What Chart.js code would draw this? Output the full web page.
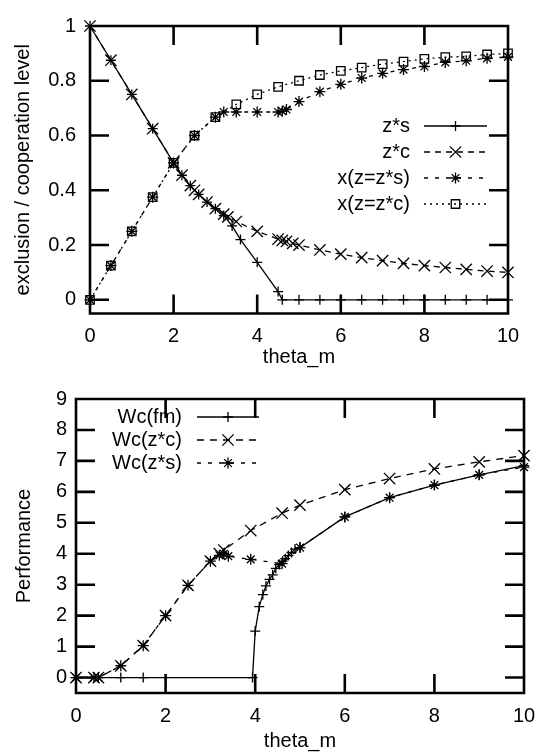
<!DOCTYPE html>
<html>
<head>
<meta charset="utf-8">
<script src="https://cdn.jsdelivr.net/npm/chart.js@4/dist/chart.umd.min.js"></script>
<style>
  html, body { margin: 0; padding: 0; background: #fff; }
  canvas { display: block; }
</style>
</head>
<body>
<canvas id="chartTop" width="552" height="378"></canvas>
<canvas id="chartBottom" width="552" height="378"></canvas>
<script>
// ---- top chart data ----
const thetaZs = [0, 0.5, 1, 1.5, 2, 2.2, 2.4, 2.6, 2.8, 3, 3.2, 3.4, 3.6, 4, 4.5, 4.6, 5, 5.5, 6, 6.5, 7, 7.5, 8, 8.5, 9, 9.5, 10];
const zStarS  = [1, 0.875, 0.75, 0.625, 0.5, 0.455, 0.417, 0.385, 0.357, 0.333, 0.308, 0.27, 0.22, 0.137, 0.03, 0, 0, 0, 0, 0, 0, 0, 0, 0, 0, 0, 0];

const thetaZc = [0, 0.5, 1, 1.5, 2, 2.2, 2.4, 2.5, 2.6, 2.8, 3, 3.2, 3.3, 3.5, 4, 4.5, 4.6, 4.7, 4.85, 5, 5.5, 6, 6.5, 7, 7.5, 8, 8.5, 9, 9.5, 10];
const zStarC  = [1, 0.875, 0.75, 0.625, 0.5, 0.455, 0.417, 0.4, 0.385, 0.357, 0.333, 0.313, 0.303, 0.286, 0.25, 0.222, 0.217, 0.213, 0.206, 0.2, 0.182, 0.167, 0.154, 0.143, 0.133, 0.125, 0.118, 0.111, 0.105, 0.1];

const thetaXs = [0, 0.5, 1, 1.5, 2, 2.5, 3, 3.2, 3.5, 4, 4.5, 4.6, 4.7, 5, 5.5, 6, 6.5, 7, 7.5, 8, 8.5, 9, 9.5, 10];
const xAtZs   = [0, 0.125, 0.25, 0.375, 0.5, 0.6, 0.667, 0.686, 0.686, 0.686, 0.686, 0.689, 0.695, 0.724, 0.76, 0.787, 0.81, 0.827, 0.841, 0.852, 0.867, 0.873, 0.882, 0.887];

const thetaXc = [0, 0.5, 1, 1.5, 2, 2.5, 3, 3.5, 4, 4.5, 5, 5.5, 6, 6.5, 7, 7.5, 8, 8.5, 9, 9.5, 10];
const xAtZc   = [0, 0.125, 0.25, 0.375, 0.5, 0.6, 0.667, 0.714, 0.75, 0.778, 0.8, 0.821, 0.836, 0.848, 0.861, 0.87, 0.88, 0.886, 0.889, 0.896, 0.9];

// ---- bottom chart data ----
const thetaFm = [0, 1, 1.5, 3.94, 4.0, 4.09, 4.17, 4.24, 4.32, 4.39, 4.46, 4.54, 4.61, 4.67, 4.74, 4.81, 4.89, 5, 6, 7, 8, 9, 10];
const wcFm    = [0, 0, 0, 0, 1.5, 2.29, 2.68, 2.96, 3.17, 3.32, 3.53, 3.65, 3.76, 3.84, 3.94, 4.04, 4.15, 4.2, 5.19, 5.81, 6.22, 6.55, 6.85];

const thetaWzc = [0, 0.4, 0.5, 1, 1.5, 2, 2.5, 3, 3.2, 3.3, 3.9, 4.6, 5, 6, 7, 8, 9, 10];
const wcZc     = [0, 0, 0, 0.38, 1.03, 2.0, 2.98, 3.76, 4.0, 4.12, 4.75, 5.31, 5.57, 6.07, 6.43, 6.74, 6.97, 7.17];

const thetaWzs = [0, 0.4, 0.5, 1, 1.5, 2, 2.5, 3, 3.2, 3.3, 3.4, 3.9, 4.6, 5, 6, 7, 8, 9, 10];
const wcZs     = [0, 0, 0, 0.38, 1.03, 2.0, 2.98, 3.76, 3.95, 4.0, 3.92, 3.82, 3.68, 4.2, 5.19, 5.81, 6.22, 6.55, 6.8];

const xTicks = [0, 2, 4, 6, 8, 10];

function pts(xs, ys) {
  return xs.map((x, i) => ({x: x, y: ys[i]}));
}

const FONT = '"Liberation Sans", Arial, sans-serif';
Chart.defaults.font.family = FONT;
Chart.defaults.font.size = 20;
Chart.defaults.color = '#000';

function series(label, xs, ys, style, radius, dash) {
  return {
    label: label,
    data: pts(xs, ys),
    borderColor: '#000',
    backgroundColor: 'rgba(0,0,0,0)',
    borderWidth: 1.3,
    borderDash: dash,
    pointStyle: style,
    pointRadius: radius,
    pointHoverRadius: radius,
    pointBorderWidth: 1.3,
    pointBorderColor: '#000',
    pointBackgroundColor: 'rgba(0,0,0,0)',
    tension: 0,
    clip: false
  };
}

// border + inward ticks on all four sides, gnuplot style
function drawFrame(chart, len) {
  const ctx = chart.ctx, a = chart.chartArea;
  const xs = chart.scales.x, ys = chart.scales.y;
  ctx.save();
  ctx.setLineDash([]);
  ctx.strokeStyle = '#000';
  ctx.lineWidth = 2.6;
  ctx.beginPath();
  xTicks.forEach(v => {
    const px = xs.getPixelForValue(v);
    ctx.moveTo(px, a.bottom); ctx.lineTo(px, a.bottom - len);
    ctx.moveTo(px, a.top); ctx.lineTo(px, a.top + len);
  });
  ys.ticks.forEach(t => {
    const py = ys.getPixelForValue(t.value);
    ctx.moveTo(a.left, py); ctx.lineTo(a.left + len, py);
    ctx.moveTo(a.right, py); ctx.lineTo(a.right - len, py);
  });
  ctx.moveTo(a.left, a.top);
  ctx.lineTo(a.right, a.top);
  ctx.lineTo(a.right, a.bottom);
  ctx.lineTo(a.left, a.bottom);
  ctx.closePath();
  ctx.stroke();
  ctx.restore();
}

function marker(ctx, style, r, x, y) {
  ctx.beginPath();
  if (style === 'cross' || style === 'star') {
    ctx.moveTo(x - r, y); ctx.lineTo(x + r, y);
    ctx.moveTo(x, y - r); ctx.lineTo(x, y + r);
  }
  if (style === 'crossRot' || style === 'star') {
    const d = r * Math.SQRT1_2;
    ctx.moveTo(x - d, y - d); ctx.lineTo(x + d, y + d);
    ctx.moveTo(x - d, y + d); ctx.lineTo(x + d, y - d);
  }
  if (style === 'rect') {
    const d = r * Math.SQRT1_2;
    ctx.rect(x - d, y - d, 2 * d, 2 * d);
  }
  ctx.stroke();
}

// frame first, then key: text on the left, line sample on the right
function keyPlugin(key) {
  return {
    id: 'gnuKey',
    afterDraw(chart) {
      drawFrame(chart, 19);
      const ctx = chart.ctx;
      ctx.save();
      ctx.font = '20px ' + FONT;
      ctx.fillStyle = '#000';
      ctx.strokeStyle = '#000';
      ctx.textAlign = 'right';
      ctx.textBaseline = 'middle';
      chart.data.datasets.forEach((ds, i) => {
        const y = key.y + i * key.gap;
        ctx.fillText(ds.label, key.textRight, y);
        ctx.lineWidth = ds.borderWidth;
        ctx.setLineDash(ds.borderDash || []);
        ctx.beginPath();
        ctx.moveTo(key.x0, y); ctx.lineTo(key.x1, y);
        ctx.stroke();
        ctx.setLineDash([]);
        marker(ctx, ds.pointStyle, ds.pointRadius, (key.x0 + key.x1) / 2, y);
      });
      ctx.restore();
    }
  };
}

function xScale(titlePad, height) {
  return {
    type: 'linear', min: 0, max: 10,
    afterBuildTicks: s => { s.ticks = xTicks.map(v => ({value: v})); },
    afterFit: s => { s.height = height; },
    grid: {display: false, drawTicks: false},
    border: {display: false},
    ticks: {padding: 11, maxRotation: 0},
    title: {display: true, text: 'theta_m', font: {size: 20}, padding: {top: 0, bottom: titlePad}}
  };
}

new Chart(document.getElementById('chartTop'), {
  type: 'line',
  data: {
    datasets: [
      series('z*s', thetaZs, zStarS, 'cross', 5, []),
      series('z*c', thetaZc, zStarC, 'crossRot', 8, [6, 5]),
      series('x(z=z*s)', thetaXs, xAtZs, 'star', 5.5, [4, 7]),
      series('x(z=z*c)', thetaXc, xAtZc, 'rect', 6, [2, 4])
    ]
  },
  options: {
    responsive: false,
    animation: false,
    devicePixelRatio: 1,
    layout: {padding: {top: 10, right: 44, left: 0, bottom: 0}},
    plugins: {
      legend: {display: false},
      tooltip: {enabled: false}
    },
    scales: {
      x: xScale(9, 64.5),
      y: {
        type: 'linear', min: -0.05, max: 1,
        afterFit: s => { s.width = 90; },
        grid: {display: false, drawTicks: false},
        border: {display: false},
        ticks: {stepSize: 0.2, includeBounds: false, padding: 14,
                callback: v => String(Math.round(v * 10) / 10)},
        title: {display: true, text: 'exclusion / cooperation level', font: {size: 20}, padding: {top: 11, bottom: 0}}
      }
    }
  },
  plugins: [keyPlugin({y: 126, gap: 26, textRight: 410, x0: 424, x1: 487})]
});

new Chart(document.getElementById('chartBottom'), {
  type: 'line',
  data: {
    datasets: [
      series('Wc(fm)', thetaFm, wcFm, 'cross', 5, []),
      series('Wc(z*c)', thetaWzc, wcZc, 'crossRot', 8, [7, 6]),
      series('Wc(z*s)', thetaWzs, wcZs, 'star', 5.5, [4, 7])
    ]
  },
  options: {
    responsive: false,
    animation: false,
    devicePixelRatio: 1,
    layout: {padding: {top: 9, right: 28, left: 0, bottom: 0}},
    plugins: {
      legend: {display: false},
      tooltip: {enabled: false}
    },
    scales: {
      x: xScale(3, 63),
      y: {
        type: 'linear', min: -0.5, max: 9,
        afterFit: s => { s.width = 76; },
        grid: {display: false, drawTicks: false},
        border: {display: false},
        ticks: {stepSize: 1, includeBounds: false, padding: 9},
        title: {display: true, text: 'Performance', font: {size: 20}, padding: {top: 12, bottom: 0}}
      }
    }
  },
  plugins: [keyPlugin({y: 39, gap: 23, textRight: 182, x0: 197, x1: 259})]
});
</script>
</body>
</html>
